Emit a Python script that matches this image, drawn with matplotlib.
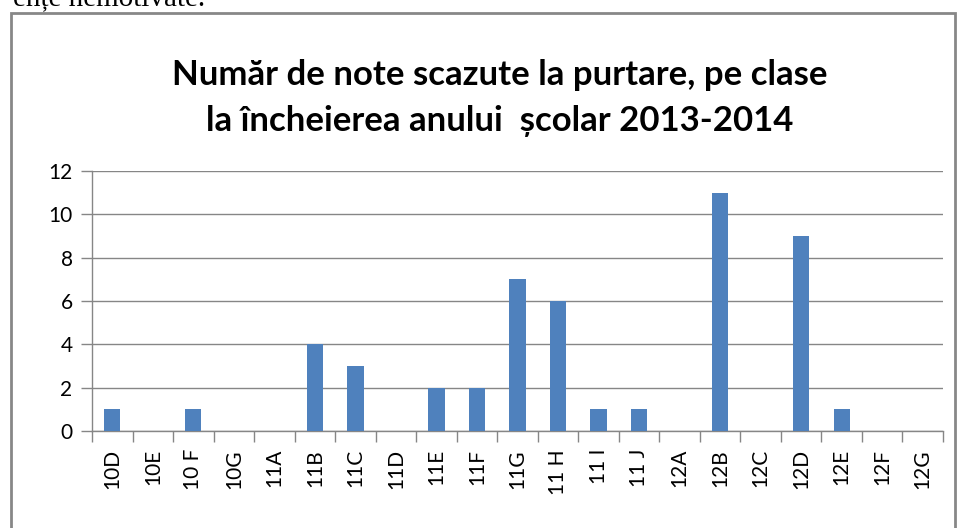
import matplotlib
matplotlib.use("Agg")
import matplotlib.pyplot as plt
from matplotlib.patches import Rectangle
import numpy as np

# data
classes = ["10D", "10E", "10 F", "10G", "11A", "11B", "11C", "11D", "11E", "11F", "11G",
           "11 H", "11 I", "11 J", "12A", "12B", "12C", "12D", "12E", "12F", "12G"]
low_marks = [1, 0, 1, 0, 0, 4, 3, 0, 2, 2, 7, 6, 1, 1, 0, 11, 0, 9, 1, 0, 0]
y_ticks = [0, 2, 4, 6, 8, 10, 12]

title_text = "Număr de note scazute la purtare, pe clase\nla încheierea anului  școlar 2013-2014"

plt.rcParams['font.family'] = ['Lato', 'DejaVu Sans']

W, H = 959, 528
fig = plt.figure(figsize=(W / 100, H / 100), dpi=100)

# text of the page above the chart, cut off
fig.text(205 / W, 1 - 5 / H, "ențe nemotivate.", family=['Liberation Serif'],
         fontsize=21, va='baseline', ha='right')

# chart frame
frame = Rectangle((11 / W, -0.05), (955 - 11) / W, (H - 13) / H + 0.05,
                  transform=fig.transFigure, fill=False, edgecolor='#878787', linewidth=2)
fig.patches.append(frame)

fig.text(500 / W, 1 - 98 / H, title_text, ha='center', va='center', fontsize=25,
         fontweight='bold', linespacing=1.55)

ax = fig.add_axes([92 / W, (H - 431) / H, (943 - 92) / W, (431 - 171) / H])
x = np.arange(len(classes))
ax.bar(x, low_marks, width=0.4, color='#4F81BD', zorder=3)

ax.set_xlim(-0.5, len(classes) - 0.5)
ax.set_ylim(0, 12)
ax.set_yticks(y_ticks)
ax.set_xticks(x)
ax.set_xticklabels(classes, rotation=90, fontsize=15)
ax.set_xticks(np.arange(len(classes) + 1) - 0.5, minor=True)
ax.tick_params(axis='x', which='major', length=0, pad=13)
ax.tick_params(axis='x', which='minor', length=8, color='#868686', width=1)
ax.tick_params(axis='y', length=8, color='#868686', width=1, labelsize=15, pad=6)

ax.grid(axis='y', color='#868686', linewidth=1, zorder=0)
for side in ['top', 'right']:
    ax.spines[side].set_visible(False)
for side in ['left', 'bottom']:
    ax.spines[side].set_color('#868686')
    ax.spines[side].set_linewidth(1)

fig.savefig("out.png", dpi=100)
